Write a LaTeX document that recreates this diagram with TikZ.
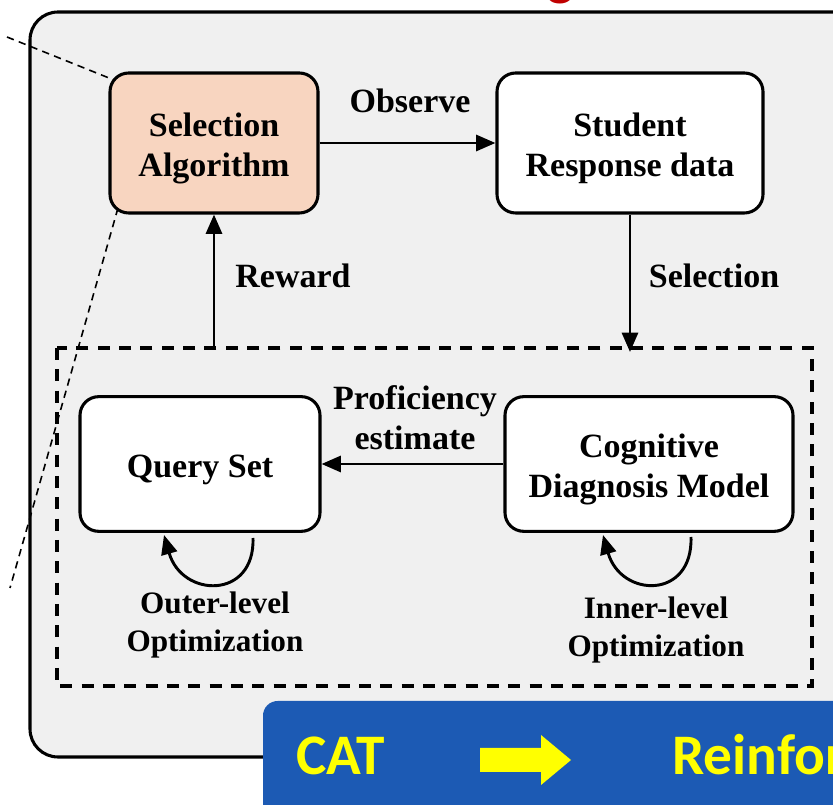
\documentclass[tikz,border=0pt]{standalone}
\usepackage{fontspec}
\setmainfont{Liberation Serif}
\newfontfamily\bannerfont{Carlito}
\usetikzlibrary{arrows.meta}

\definecolor{panelgray}{HTML}{F0F0F0}
\definecolor{peach}{HTML}{F8D5C0}
\definecolor{bannerblue}{HTML}{1C5AB4}
\definecolor{titlered}{HTML}{C00000}
\definecolor{bannertext}{HTML}{FFFF00}

% strut that lowers box text slightly inside its frame
\newcommand\boxstrut{\rule{0pt}{26pt}}

\begin{document}
\begin{tikzpicture}[x=0.75pt, y=-0.75pt,
  box/.style={draw, line width=2.3pt, rounded corners=14pt, fill=white, align=center,
    inner sep=0pt, font=\bfseries\fontsize{25.5}{30}\selectfont},
  lbl/.style={align=center, inner sep=0pt, font=\bfseries\fontsize{25.5}{30}\selectfont},
  optlbl/.style={align=center, inner sep=0pt, font=\bfseries\fontsize{23.4}{28.5}\selectfont},
  flow/.style={line width=2.2pt, -{Triangle[length=14.5pt,width=12pt]}},
  leader/.style={line width=1.2pt, dash pattern=on 5.5pt off 4pt},
  bannertxt/.style={text=bannertext, inner sep=0pt, anchor=base west,
    font=\bannerfont\bfseries\fontsize{43}{50}\selectfont},
]
\useasboundingbox (0,0) rectangle (833,805);
\clip (0,0) rectangle (833,805);

% heading above the panel (only its descender shows)
\node[text=titlered, inner sep=0pt, anchor=base,
  font=\bannerfont\bfseries\fontsize{42}{50}\selectfont] (heading) at (561,-5) {g};

% grey panel
\draw[line width=2.3pt, fill=panelgray, rounded corners=21pt] (30,12) rectangle (880,757);

% zoom leaders
\coordinate (leadA1) at (7,37);
\coordinate (leadA2) at (114,80);
\coordinate (leadB1) at (118,208);
\coordinate (leadB2) at (10,588);
\draw[leader] (leadA1) -- (leadA2);
\draw[leader] (leadB1) -- (leadB2);

% inner dashed region
\draw[line width=2.4pt, dash pattern=on 9pt off 7pt] (57,348) rectangle (812,686);

% boxes
\node[box, fill=peach, minimum width=156pt, minimum height=105pt] (alg) at (214,143) {\boxstrut Selection\\Algorithm};
\node[box, minimum width=199.5pt, minimum height=105pt] (resp) at (630,143) {\boxstrut Student\\Response data};
\node[box, minimum width=180pt, minimum height=101pt] (query) at (200,464) {\boxstrut Query Set};
\node[box, minimum width=216pt, minimum height=101pt] (cdm) at (649,464) {\boxstrut Cognitive\\Diagnosis Model};

% connectors
\coordinate (selEnd) at (628,352);
\coordinate (rewStart) at (214,348);
\draw[flow] (alg) -- (resp);
\draw[flow] (resp.south) -- (resp.south |- selEnd);
\draw[flow] (rewStart) -- (alg.south);
\draw[flow] (cdm.west) -- (query.east);

% self loops
\coordinate (qA) at (253,538);
\coordinate (qB) at (164,535);
\coordinate (cA) at (691,537);
\coordinate (cB) at (603,535);
\draw[flow] (qA) .. controls (255,600) and (182,598) .. (qB);
\draw[flow] (cA) .. controls (693,600) and (621,598) .. (cB);

% labels
\node[lbl] (obs) at (410,101) {Observe};
\node[lbl] (rew) at (293,276) {Reward};
\node[lbl] (sel) at (714,276) {Selection};
\node[lbl] (prof) at (415,418) {Proficiency\\estimate};
\node[optlbl] (outer) at (215,625) {Outer-level\\Optimization};
\node[optlbl] (inner) at (656,630) {Inner-level\\Optimization};

% banner
\fill[bannerblue, rounded corners=11pt] (263,701) rectangle (900,880);
\node[bannertxt] (cat) at (296,775) {CAT};
\fill[bannertext] (480,748) -- (541,748) -- (541,735) -- (571,760) -- (541,785) -- (541,772) -- (480,772) -- cycle;
\node[bannertxt] (rl) at (672,775) {Reinforcement Learning};
\end{tikzpicture}
\end{document}
